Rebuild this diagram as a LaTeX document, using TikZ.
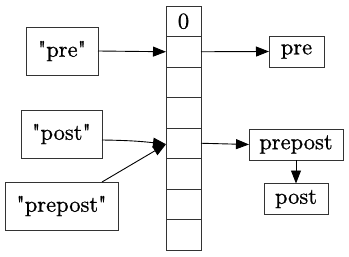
\documentclass[tikz,border=0pt]{standalone}
\usepackage{fontspec}
% plain Latin Modern without TeX quote ligatures, so " stays straight
\newfontfamily\labelfont{lmroman10-regular.otf}[FakeBold=0.8]
\usetikzlibrary{arrows.meta}
\begin{document}
\begin{tikzpicture}[x=1pt,y=-1pt,
  every node/.style={font=\labelfont\fontsize{22.5}{26}\selectfont, inner sep=0pt, outer sep=0pt},
  box/.style={draw=black!80, line width=1pt, minimum height=48pt},
  item/.style={draw=black!80, line width=1pt, minimum height=31pt},
  cell/.style={draw=black!80, line width=1pt, minimum width=35pt, minimum height=30.5pt},
  link/.style={line width=0.9pt, -{Triangle[length=13pt,width=10pt]}}]
\useasboundingbox (0,0) rectangle (349,257);

% keys on the left
\node[box, minimum width=72pt]  (kpre)     at (62,51)    {"pre"};
\node[box, minimum width=81pt]  (kpost)    at (61.5,134) {"post"};
\node[box, minimum width=113pt] (kprepost) at (61.5,206) {"prepost"};

% hash table slots
\foreach \i in {0,...,7}
  \node[cell] (c\i) at (183.5,{6+30.5*(\i+0.5)}) {};
\node at (c0) {0};

% chained entries on the right
\node[item, minimum width=55pt] (vpre)     at (296.5,51.5)  {pre};
\node[item, minimum width=94pt] (vprepost) at (296,144.5)   {prepost};
\node[item, minimum width=64pt] (vpost)    at (296,199)     {post};

% connectors
\draw[link] (kpre.east) -- (c1.west);
\draw[link] ([yshift=-6pt]kpost.east) to[bend left=3] ([yshift=-1pt]c4.west);
\draw[link] ([xshift=40.5pt]kprepost.north) -- ([yshift=-1pt]c4.west);
\draw[link] (c1.east) -- (vpre.west);
\draw[link] (c4.east) -- (vprepost.west);
\draw[link] (vprepost.south) -- (vpost.north);
\end{tikzpicture}
\end{document}
